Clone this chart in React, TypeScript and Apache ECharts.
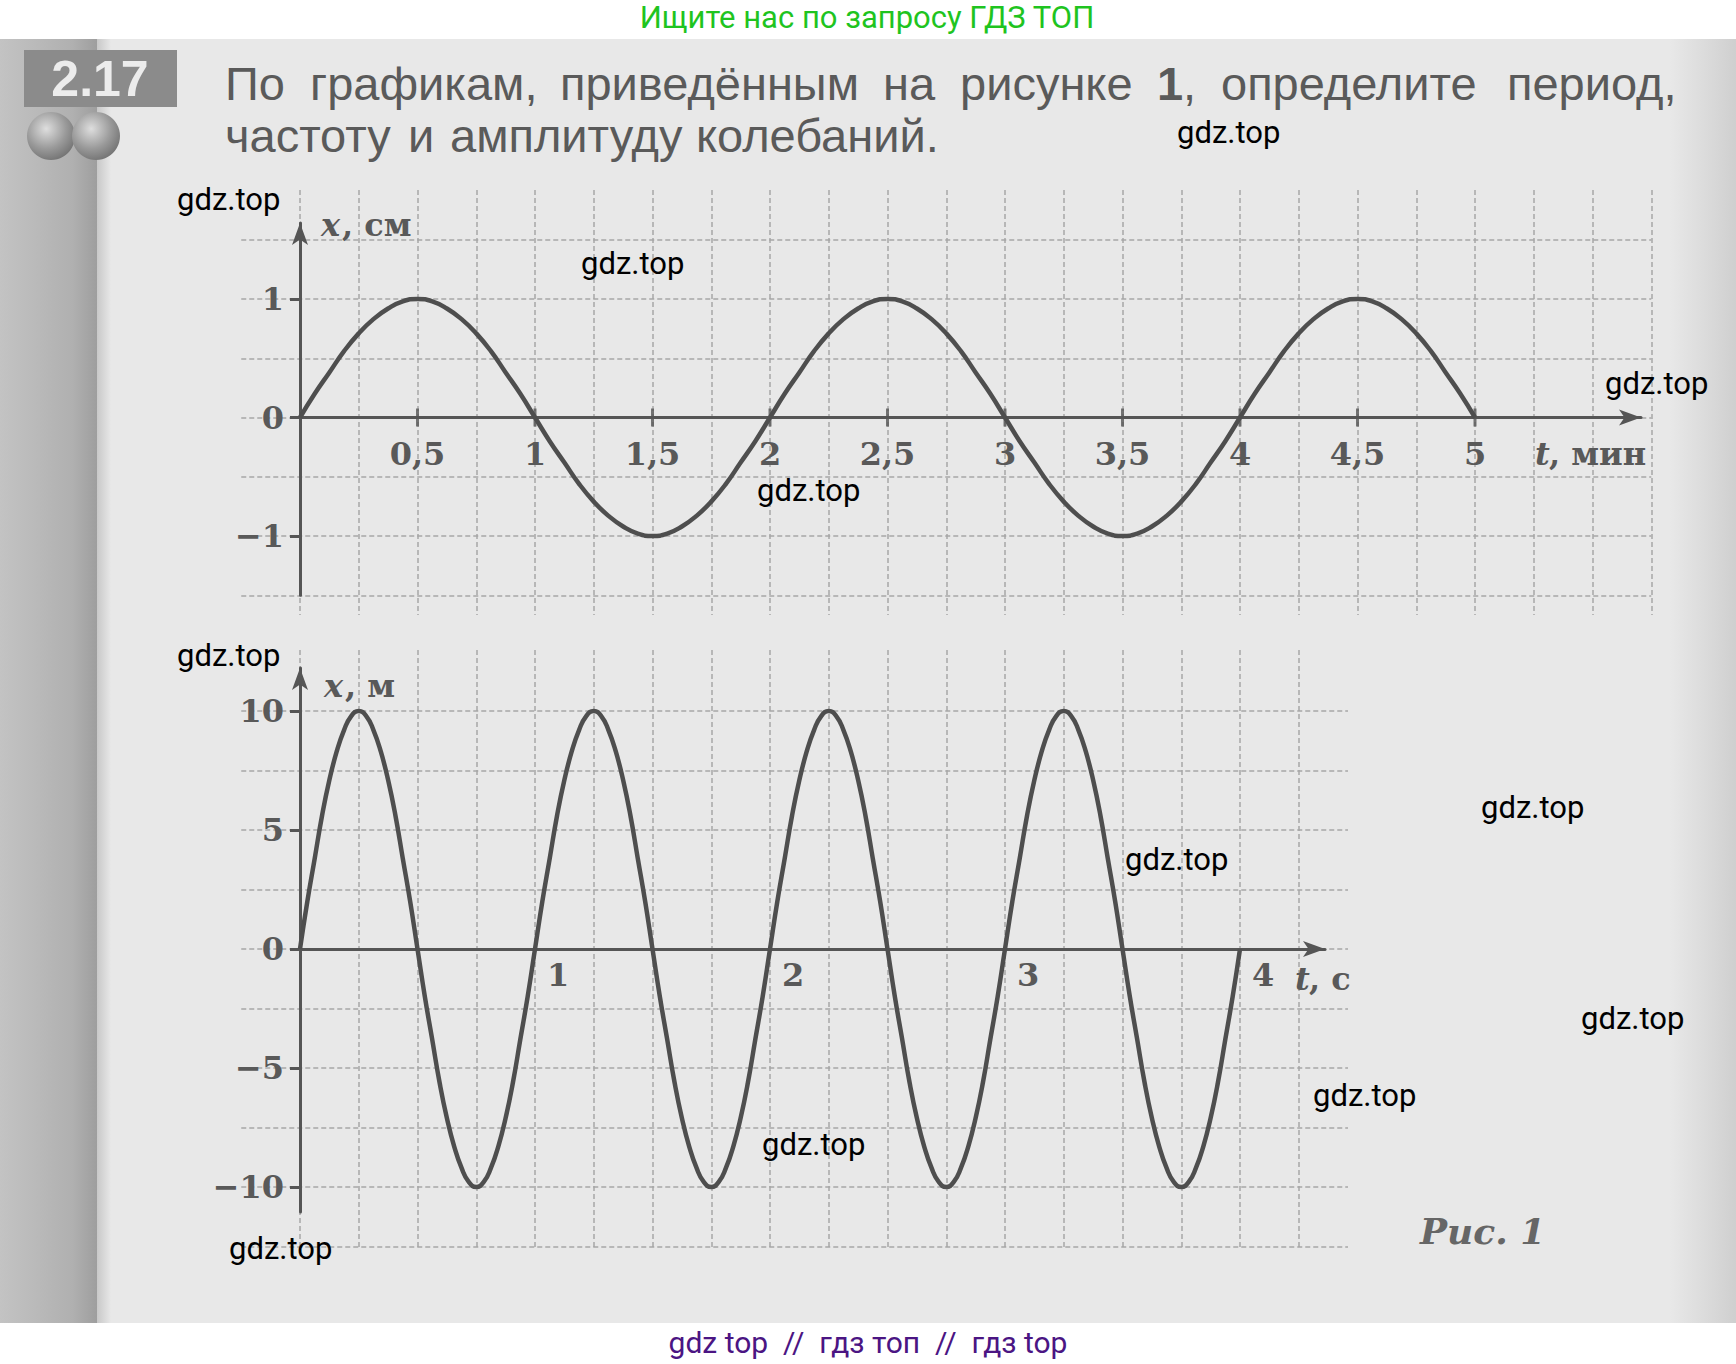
import React, { useEffect, useRef } from "react";
import * as echarts from "echarts";

// ---------- data: figure 1, top graph (x, cm vs t, min) ----------
const t1 = [
  0, 0.0625, 0.125, 0.1875, 0.25, 0.3125, 0.375, 0.4375, 0.5, 0.5625, 0.625, 0.6875, 0.75, 0.8125, 0.875, 0.9375,
  1, 1.0625, 1.125, 1.1875, 1.25, 1.3125, 1.375, 1.4375, 1.5, 1.5625, 1.625, 1.6875, 1.75, 1.8125, 1.875, 1.9375,
  2, 2.0625, 2.125, 2.1875, 2.25, 2.3125, 2.375, 2.4375, 2.5, 2.5625, 2.625, 2.6875, 2.75, 2.8125, 2.875, 2.9375,
  3, 3.0625, 3.125, 3.1875, 3.25, 3.3125, 3.375, 3.4375, 3.5, 3.5625, 3.625, 3.6875, 3.75, 3.8125, 3.875, 3.9375,
  4, 4.0625, 4.125, 4.1875, 4.25, 4.3125, 4.375, 4.4375, 4.5, 4.5625, 4.625, 4.6875, 4.75, 4.8125, 4.875, 4.9375,
  5,
];
const x1 = [
  0, 0.2, 0.38, 0.56, 0.71, 0.83, 0.92, 0.98, 1, 0.98, 0.92, 0.83, 0.71, 0.56, 0.38, 0.2,
  0, -0.2, -0.38, -0.56, -0.71, -0.83, -0.92, -0.98, -1, -0.98, -0.92, -0.83, -0.71, -0.56, -0.38, -0.2,
  0, 0.2, 0.38, 0.56, 0.71, 0.83, 0.92, 0.98, 1, 0.98, 0.92, 0.83, 0.71, 0.56, 0.38, 0.2,
  0, -0.2, -0.38, -0.56, -0.71, -0.83, -0.92, -0.98, -1, -0.98, -0.92, -0.83, -0.71, -0.56, -0.38, -0.2,
  0, 0.2, 0.38, 0.56, 0.71, 0.83, 0.92, 0.98, 1, 0.98, 0.92, 0.83, 0.71, 0.56, 0.38, 0.2,
  0,
];
const t1Ticks = [0.5, 1, 1.5, 2, 2.5, 3, 3.5, 4, 4.5, 5];
const t1Labels = ["0,5", "1", "1,5", "2", "2,5", "3", "3,5", "4", "4,5", "5"];
const x1Ticks = [-1, 0, 1];
const x1Labels = ["\u22121", "0", "1"];

// ---------- data: figure 1, bottom graph (x, m vs t, s) ----------
const t2 = [
  0, 0.03125, 0.0625, 0.09375, 0.125, 0.15625, 0.1875, 0.21875, 0.25, 0.28125, 0.3125, 0.34375, 0.375, 0.40625, 0.4375, 0.46875,
  0.5, 0.53125, 0.5625, 0.59375, 0.625, 0.65625, 0.6875, 0.71875, 0.75, 0.78125, 0.8125, 0.84375, 0.875, 0.90625, 0.9375, 0.96875,
  1, 1.03125, 1.0625, 1.09375, 1.125, 1.15625, 1.1875, 1.21875, 1.25, 1.28125, 1.3125, 1.34375, 1.375, 1.40625, 1.4375, 1.46875,
  1.5, 1.53125, 1.5625, 1.59375, 1.625, 1.65625, 1.6875, 1.71875, 1.75, 1.78125, 1.8125, 1.84375, 1.875, 1.90625, 1.9375, 1.96875,
  2, 2.03125, 2.0625, 2.09375, 2.125, 2.15625, 2.1875, 2.21875, 2.25, 2.28125, 2.3125, 2.34375, 2.375, 2.40625, 2.4375, 2.46875,
  2.5, 2.53125, 2.5625, 2.59375, 2.625, 2.65625, 2.6875, 2.71875, 2.75, 2.78125, 2.8125, 2.84375, 2.875, 2.90625, 2.9375, 2.96875,
  3, 3.03125, 3.0625, 3.09375, 3.125, 3.15625, 3.1875, 3.21875, 3.25, 3.28125, 3.3125, 3.34375, 3.375, 3.40625, 3.4375, 3.46875,
  3.5, 3.53125, 3.5625, 3.59375, 3.625, 3.65625, 3.6875, 3.71875, 3.75, 3.78125, 3.8125, 3.84375, 3.875, 3.90625, 3.9375, 3.96875,
  4,
];
const x2 = [
  0, 2, 3.8, 5.6, 7.1, 8.3, 9.2, 9.8, 10, 9.8, 9.2, 8.3, 7.1, 5.6, 3.8, 2,
  0, -2, -3.8, -5.6, -7.1, -8.3, -9.2, -9.8, -10, -9.8, -9.2, -8.3, -7.1, -5.6, -3.8, -2,
  0, 2, 3.8, 5.6, 7.1, 8.3, 9.2, 9.8, 10, 9.8, 9.2, 8.3, 7.1, 5.6, 3.8, 2,
  0, -2, -3.8, -5.6, -7.1, -8.3, -9.2, -9.8, -10, -9.8, -9.2, -8.3, -7.1, -5.6, -3.8, -2,
  0, 2, 3.8, 5.6, 7.1, 8.3, 9.2, 9.8, 10, 9.8, 9.2, 8.3, 7.1, 5.6, 3.8, 2,
  0, -2, -3.8, -5.6, -7.1, -8.3, -9.2, -9.8, -10, -9.8, -9.2, -8.3, -7.1, -5.6, -3.8, -2,
  0, 2, 3.8, 5.6, 7.1, 8.3, 9.2, 9.8, 10, 9.8, 9.2, 8.3, 7.1, 5.6, 3.8, 2,
  0, -2, -3.8, -5.6, -7.1, -8.3, -9.2, -9.8, -10, -9.8, -9.2, -8.3, -7.1, -5.6, -3.8, -2,
  0,
];
const t2Ticks = [1, 2, 3, 4];
const t2Labels = ["1", "2", "3", "4"];
const x2Ticks = [-10, -5, 0, 5, 10];
const x2Labels = ["\u221210", "\u22125", "0", "5", "10"];

// ---------- page texts ----------
const headerText = "Ищите нас по запросу ГДЗ ТОП";
const footerText = "gdz top\u00a0\u00a0//\u00a0\u00a0гдз топ\u00a0\u00a0//\u00a0\u00a0гдз top";
const taskNumber = "2.17";
const line1Words = [
  { w: "По", x: 225 },
  { w: "графикам,", x: 310 },
  { w: "приведённым", x: 560 },
  { w: "на", x: 883 },
  { w: "рисунке", x: 960 },
  { w: "1", x: 1157, bold: true },
  { w: ",", x: 1183 },
  { w: "определите", x: 1221 },
  { w: "период,", x: 1507 },
];
const line2Words = [
  { w: "частоту", x: 225 },
  { w: "и", x: 408 },
  { w: "амплитуду", x: 450 },
  { w: "колебаний.", x: 696 },
];
const watermarks = [
  [1177, 132], [177, 199], [581, 263], [1605, 383], [757, 490], [177, 655],
  [1481, 807], [1125, 859], [1581, 1018], [1313, 1095], [762, 1144], [229, 1248],
];

// ---------- layout ----------
const W = 1736;
const H = 1364;
const T0 = 300; // px of t = 0
const PXT = 235; // px per min / per s
const Y01 = 417.5;
const PXY1 = 118.5;
const Y02 = 949;
const PXY2 = 23.8;

const INK = "#555555";
const CURVE = "#4e4e4e";
const GRIDC = "#a6a6a6";
const SERIF = '"DejaVu Serif", "Liberation Serif", serif';
const SANS = '"Liberation Sans", Arial, sans-serif';

function txt(text: string, x: number, y: number, o: any = {}) {
  return {
    type: "text",
    x,
    y,
    z: o.z ?? 50,
    style: {
      text,
      fill: o.fill ?? INK,
      fontSize: o.size ?? 32,
      fontFamily: o.family ?? SANS,
      fontWeight: o.weight ?? "normal",
      fontStyle: o.style ?? "normal",
      textAlign: o.align ?? "left",
      align: o.align ?? "left",
      textVerticalAlign: "middle",
      verticalAlign: "middle",
    },
  };
}

function labelFmt(ticks: number[], labels: string[]) {
  return (v: number) => {
    const i = ticks.findIndex((t) => Math.abs(t - v) < 1e-6);
    return i >= 0 ? labels[i] : "";
  };
}

const serifLabel = {
  color: "#595959",
  fontFamily: SERIF,
  fontSize: 32,
  fontWeight: "bold",
};

const gridLine = { show: true, lineStyle: { color: GRIDC, width: 1.5, type: [5, 3] } };
const hidden = { show: false };

export default function App() {
  const ref = useRef<HTMLDivElement>(null);

  useEffect(() => {
    document.body.style.margin = "0";
    if (!ref.current) return;
    const chart = echarts.init(ref.current, undefined, { renderer: "svg", width: W, height: H });

    const top1 = 223;
    const bottom1 = Y01 + 1.5 * PXY1;
    const top2 = 668;
    const bottom2 = 1212;

    const grids = [
      // 0: vertical grid lines, top graph
      { left: T0, top: 190, width: 5.75 * PXT, height: 425 },
      // 1: horizontal grid lines, top graph
      { left: T0 - 0.25 * PXT, top: Y01 - 1.5 * PXY1, width: 6 * PXT, height: 3 * PXY1 },
      // 2: axes + curve, top graph
      { left: T0, top: top1, width: 1341, height: bottom1 - top1 },
      // 3: vertical grid lines, bottom graph
      { left: T0, top: 650, width: 4.25 * PXT, height: 600 },
      // 4: horizontal grid lines, bottom graph
      { left: T0 - 0.25 * PXT, top: Y02 - 10 * PXY2, width: 1106.75, height: 22.5 * PXY2 },
      // 5: axes + curve, bottom graph
      { left: T0, top: top2, width: 1025, height: bottom2 - top2 },
    ].map((g) => ({ ...g, containLabel: false, outerBoundsMode: "none" }));

    const arrowLine = (onZero: boolean) => ({
      show: true,
      onZero,
      symbol: ["none", "arrow"],
      symbolSize: [12, 22],
      lineStyle: { color: INK, width: 3 },
    });

    const xAxis: any[] = [
      { gridIndex: 0, type: "value", min: 0, max: 5.75, interval: 0.25, axisLine: hidden, axisTick: hidden, axisLabel: hidden, splitLine: gridLine },
      { gridIndex: 1, type: "value", min: -0.25, max: 5.75, show: false },
      {
        gridIndex: 2, type: "value", min: 0, max: 1341 / PXT, position: "bottom",
        offset: -(bottom1 - Y01),
        axisLine: arrowLine(false), axisTick: hidden, splitLine: hidden,
        axisLabel: { ...serifLabel, margin: 20, customValues: t1Ticks, formatter: labelFmt(t1Ticks, t1Labels) },
      },
      { gridIndex: 3, type: "value", min: 0, max: 4.25, interval: 0.25, axisLine: hidden, axisTick: hidden, axisLabel: hidden, splitLine: gridLine },
      { gridIndex: 4, type: "value", min: -0.25, max: -0.25 + 1106.75 / PXT, show: false },
      {
        gridIndex: 5, type: "value", min: 0, max: 1025 / PXT, position: "bottom",
        offset: -(bottom2 - Y02),
        axisLine: arrowLine(false), axisTick: hidden, splitLine: hidden,
        axisLabel: { ...serifLabel, margin: 10, align: "left", padding: [0, 0, 0, 12], customValues: t2Ticks, formatter: labelFmt(t2Ticks, t2Labels) },
      },
    ];

    const yAxis: any[] = [
      { gridIndex: 0, type: "value", min: 0, max: 1, show: false },
      { gridIndex: 1, type: "value", min: -1.5, max: 1.5, interval: 0.5, axisLine: hidden, axisTick: hidden, axisLabel: hidden, splitLine: gridLine },
      {
        gridIndex: 2, type: "value", min: -1.5, max: (Y01 - top1) / PXY1, position: "left",
        axisLine: arrowLine(false), splitLine: hidden,
        axisTick: { show: true, length: 10, customValues: x1Ticks, lineStyle: { color: INK, width: 3 } },
        axisLabel: { ...serifLabel, margin: 16, customValues: x1Ticks, formatter: labelFmt(x1Ticks, x1Labels) },
      },
      { gridIndex: 3, type: "value", min: 0, max: 1, show: false },
      { gridIndex: 4, type: "value", min: -12.5, max: 10, interval: 2.5, axisLine: hidden, axisTick: hidden, axisLabel: hidden, splitLine: gridLine },
      {
        gridIndex: 5, type: "value", min: -(bottom2 - Y02) / PXY2, max: (Y02 - top2) / PXY2, position: "left",
        axisLine: arrowLine(false), splitLine: hidden,
        axisTick: { show: true, length: 10, customValues: x2Ticks, lineStyle: { color: INK, width: 3 } },
        axisLabel: { ...serifLabel, margin: 16, customValues: x2Ticks, formatter: labelFmt(x2Ticks, x2Labels) },
      },
    ];

    const series: any[] = [
      {
        type: "line", xAxisIndex: 2, yAxisIndex: 2, z: 5,
        data: t1.map((t, i) => [t, x1[i]]),
        smooth: true, showSymbol: false, clip: false,
        lineStyle: { color: CURVE, width: 4.5 },
      },
      {
        type: "scatter", xAxisIndex: 2, yAxisIndex: 2, z: 4,
        data: t1Ticks.map((t) => [t, 0]),
        symbol: "rect", symbolSize: [3, 18],
        itemStyle: { color: INK },
        silent: true,
      },
      {
        type: "line", xAxisIndex: 5, yAxisIndex: 5, z: 5,
        data: t2.map((t, i) => [t, x2[i]]),
        smooth: true, showSymbol: false, clip: false,
        lineStyle: { color: CURVE, width: 4.5 },
      },
    ];

    const graphic: any[] = [
      // page
      { type: "rect", z: -10, shape: { x: 0, y: 39, width: W, height: 1284 }, style: { fill: "#e8e8e8" } },
      {
        type: "rect", z: -9, shape: { x: 0, y: 39, width: 97, height: 1284 },
        style: { fill: new echarts.graphic.LinearGradient(0, 0, 1, 0, [
          { offset: 0, color: "#c3c3c3" }, { offset: 0.75, color: "#b0b0b0" }, { offset: 1, color: "#9e9e9e" },
        ]) },
      },
      {
        type: "rect", z: -9, shape: { x: 97, y: 39, width: 14, height: 1284 },
        style: { fill: new echarts.graphic.LinearGradient(0, 0, 1, 0, [
          { offset: 0, color: "#c8c8c8" }, { offset: 1, color: "#e8e8e8" },
        ]) },
      },
      {
        type: "rect", z: -9, shape: { x: 1670, y: 39, width: 66, height: 1284 },
        style: { fill: new echarts.graphic.LinearGradient(0, 0, 1, 0, [
          { offset: 0, color: "#e8e8e8" }, { offset: 0.5, color: "#dcdcdc" }, { offset: 1, color: "#cfcfcf" },
        ]) },
      },
      // task badge
      { type: "rect", z: 20, shape: { x: 24, y: 50, width: 153, height: 57 }, style: { fill: "#8b8b8b" } },
      txt(taskNumber, 100, 79, { size: 50, weight: "bold", fill: "#ececec", align: "center" }),
      ...[51, 96].map((cx) => ({
        type: "circle", z: 20, shape: { cx, cy: 136, r: 24 },
        style: { fill: new echarts.graphic.RadialGradient(0.4, 0.35, 0.75, [
          { offset: 0, color: "#dedede" }, { offset: 0.55, color: "#9a9a9a" }, { offset: 1, color: "#6a6a6a" },
        ]) },
      })),
      // task text
      ...line1Words.map((o) => txt(o.w, o.x, 83, { size: 47, weight: o.bold ? "bold" : "normal", fill: "#5a5a5a" })),
      ...line2Words.map((o) => txt(o.w, o.x, 135, { size: 47, fill: "#5a5a5a" })),
      // axis names
      txt("x", 321, 225, { family: SERIF, style: "italic", weight: "bold", fill: "#595959" }),
      txt(", см", 342, 225, { family: SERIF, weight: "bold", fill: "#595959" }),
      txt("t", 1535, 454, { family: SERIF, style: "italic", weight: "bold", fill: "#595959" }),
      txt(", мин", 1549, 454, { family: SERIF, weight: "bold", fill: "#595959" }),
      txt("x", 324, 686, { family: SERIF, style: "italic", weight: "bold", fill: "#595959" }),
      txt(", м", 345, 686, { family: SERIF, weight: "bold", fill: "#595959" }),
      txt("t", 1295, 979, { family: SERIF, style: "italic", weight: "bold", fill: "#595959" }),
      txt(", с", 1309, 979, { family: SERIF, weight: "bold", fill: "#595959" }),
      txt("Рис. 1", 1420, 1231, { family: SERIF, style: "italic", weight: "bold", size: 36, fill: "#666666" }),
      // site texts
      txt(headerText, 867, 17, { family: "Roboto", size: 31, fill: "#1fc41f", align: "center", z: 60 }),
      txt(footerText, 868, 1342, { family: "Roboto", size: 30, fill: "#4b1583", align: "center", z: 60 }),
      ...watermarks.map(([x, y]) => txt("gdz.top", x, y, { family: "Roboto", size: 31, fill: "#000000", z: 60 })),
    ];

    chart.setOption({
      animation: false,
      backgroundColor: "#ffffff",
      grid: grids,
      xAxis,
      yAxis,
      series,
      graphic: { elements: graphic },
    });

    return () => chart.dispose();
  }, []);

  return <div ref={ref} style={{ width: W, height: H }} />;
}
